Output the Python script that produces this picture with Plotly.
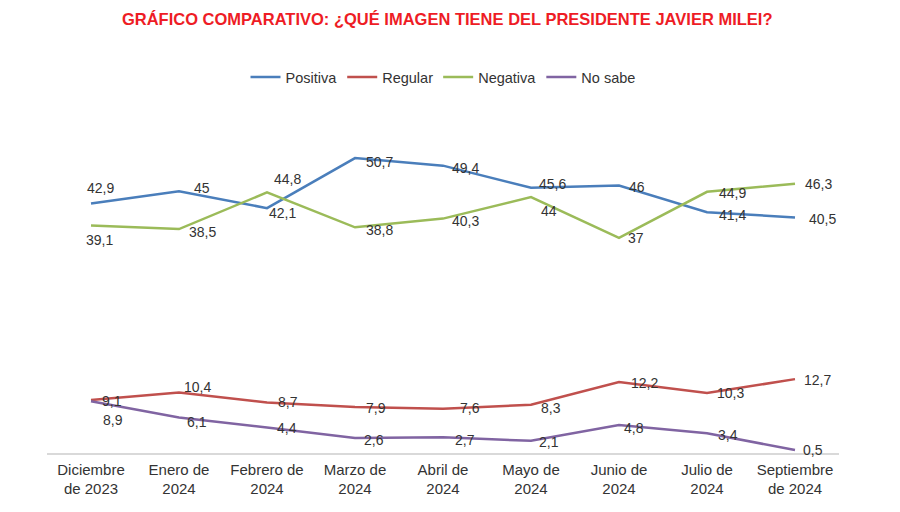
import plotly.graph_objects as go

categories = ["Diciembre<br>de 2023", "Enero de<br>2024", "Febrero de<br>2024", "Marzo de<br>2024",
              "Abril de<br>2024", "Mayo de<br>2024", "Junio de<br>2024", "Julio de<br>2024",
              "Septiembre<br>de 2024"]
positiva = [42.9, 45, 42.1, 50.7, 49.4, 45.6, 46, 41.4, 40.5]
regular = [9.1, 10.4, 8.7, 7.9, 7.6, 8.3, 12.2, 10.3, 12.7]
negativa = [39.1, 38.5, 44.8, 38.8, 40.3, 44, 37, 44.9, 46.3]
no_sabe = [8.9, 6.1, 4.4, 2.6, 2.7, 2.1, 4.8, 3.4, 0.5]

# label offsets in pixels (dx right, dy down) - styling only
pos_off = [(9, -15), (23, -3), (15, 5), (24, 4), (22, 2), (21, -4), (18, 2), (25, 3), (27, 2)]
reg_off = [(21, 1), (18, -6), (21, 0), (21, 1), (27, -1), (20, 3), (25, 1), (23, 0), (22, 1)]
neg_off = [(8, 14), (23, 3), (20, -13), (24, 3), (22, 2), (18, 14), (17, 0), (25, 1), (23, 0)]
ns_off = [(22, 19), (18, 4), (20, 1), (19, 2), (22, 3), (18, 1), (15, 3), (21, 2), (18, 0)]

FONT = "Liberation Sans, Arial, sans-serif"

def fmt(v):
    return ("%g" % v).replace(".", ",")

series = [
    ("Positiva", positiva, "#4a7ebb", pos_off),
    ("Regular", regular, "#c0504d", reg_off),
    ("Negativa", negativa, "#9bbb59", neg_off),
    ("No sabe", no_sabe, "#8064a2", ns_off),
]

fig = go.Figure()
annotations = []
for name, vals, color, offs in series:
    fig.add_trace(go.Scatter(
        x=categories, y=vals, name=name, mode="lines",
        line=dict(color=color, width=2.5), cliponaxis=False,
    ))
    for c, v, (dx, dy) in zip(categories, vals, offs):
        annotations.append(dict(
            x=c, y=v, xref="x", yref="y", text=fmt(v), showarrow=False,
            xanchor="center", yanchor="middle", xshift=dx, yshift=-dy,
            font=dict(family=FONT, size=14, color="#333333"),
        ))

# page has an 8px body margin: plot area at screen x 47..839, y 104..453
fig.update_layout(
    width=900, height=512,
    margin=dict(l=39, r=69, t=96, b=67),
    paper_bgcolor="white", plot_bgcolor="white",
    title=dict(
        text="<b>GRÁFICO COMPARATIVO: ¿QUÉ IMAGEN TIENE DEL PRESIDENTE JAVIER MILEI?</b>",
        font=dict(family=FONT, size=16.5, color="#ee1c25"),
        x=0.488, xanchor="center", y=1 - 11 / 512, yanchor="middle", yref="container",
    ),
    legend=dict(
        orientation="h", x=0.5, xanchor="center", y=(445 - 69) / 349, yanchor="middle",
        font=dict(family=FONT, size=14.5, color="#333333"),
        itemwidth=30, traceorder="normal",
    ),
    annotations=annotations,
    showlegend=True,
)
fig.update_xaxes(
    type="category", range=[-0.5, 8.5], showgrid=False, zeroline=False,
    showline=True, linecolor="#d9d9d9", linewidth=1.5, ticks="",
    tickfont=dict(family=FONT, size=15, color="#333333"),
    ticklabelstandoff=2,
)
fig.update_yaxes(range=[0, 60], showgrid=False, zeroline=False, showticklabels=False,
                 showline=False)

fig.write_html("out.html")
